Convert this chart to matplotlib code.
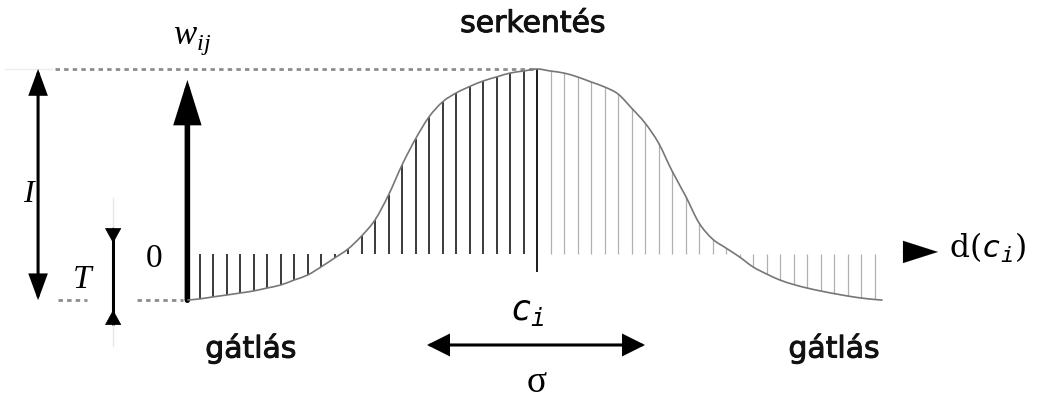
import matplotlib
matplotlib.use("Agg")
import matplotlib.pyplot as plt
from matplotlib.patches import ArrowStyle, PathPatch
from matplotlib.path import Path
import matplotlib.patheffects as pe
import numpy as np

plt.rcParams['mathtext.fontset'] = 'custom'
plt.rcParams['mathtext.rm'] = 'DejaVu Serif'
plt.rcParams['mathtext.it'] = 'DejaVu Sans Mono:italic'
plt.rcParams['mathtext.sf'] = 'Liberation Serif:italic'

# ---- data (x in hatch-spacing units around c_i, y in weight units, peak = w_ij = 1) ----
curve_x = [-25.9] + list(range(-25, 26)) + [25.6]
curve_y = [-0.249,
           -0.243, -0.232, -0.222, -0.211, -0.200, -0.184, -0.168, -0.141, -0.114, -0.070,
           -0.022, 0.027, 0.097, 0.184, 0.319, 0.481, 0.622, 0.741, 0.822, 0.870,
           0.905, 0.935, 0.957, 0.978, 0.989,
           1.000,
           0.989, 0.978, 0.957, 0.930, 0.903, 0.865, 0.789, 0.708, 0.600, 0.449,
           0.314, 0.168, 0.081, 0.032, -0.016, -0.070, -0.108, -0.141, -0.165, -0.184,
           -0.200, -0.214, -0.227, -0.238, -0.246,
           -0.249]
hatch_left = list(range(-25, 0))
hatch_right = list(range(1, 26))
w_peak = 1.0
T_level = -0.25
x_start = -25.9
sigma_left, sigma_right = -8.15, 8.0
labels = {"top": "serkentés", "inhib": "gátlás", "axis": r"$\mathrm{d}(c_i)$",
          "center": r"$c_i$", "w": r"$\mathsf{w}_{\mathsf{ij}}$", "I": "I", "T": "T",
          "zero": "0", "sigma": "σ"}

fig = plt.figure(figsize=(10.38, 3.99), dpi=100)
ax = fig.add_axes([0, 0, 1, 1])
ax.set_xlim(-39.78, 37.11)
ax.set_ylim(-0.784, 1.373)
ax.axis('off')

cy = np.interp(hatch_left, curve_x, curve_y)
for x, y in zip(hatch_left, cy):
    ax.plot([x, x], [0, y], color='#2a2a2a', lw=1.3, solid_capstyle='butt', zorder=2)
cy = np.interp(hatch_right, curve_x, curve_y)
for x, y in zip(hatch_right, cy):
    ax.plot([x, x], [0, y], color='#b0b0b0', lw=0.9, solid_capstyle='butt', zorder=2)
# centre line
ax.plot([0, 0], [w_peak, -0.097], color='#1a1a1a', lw=1.4, solid_capstyle='butt', zorder=3)

# smooth curve through the read points (Catmull-Rom rendered as cubic Bezier)
P = np.column_stack([curve_x, curve_y]).astype(float)
ext = np.vstack([P[0], P, P[-1]])
verts = [tuple(P[0])]
codes = [Path.MOVETO]
for i in range(len(P) - 1):
    p0, p1, p2, p3 = ext[i], ext[i + 1], ext[i + 2], ext[i + 3]
    c1 = p1 + (p2 - p0) / 6.0
    c2 = p2 - (p3 - p1) / 6.0
    verts += [tuple(c1), tuple(c2), tuple(p2)]
    codes += [Path.CURVE4] * 3
ax.add_patch(PathPatch(Path(verts, codes), fill=False, edgecolor='#777777', lw=1.2, zorder=4))

# dotted guide lines
dot = (0, (1.6, 1.5))
ax.plot([-35.7, 0], [w_peak, w_peak], color='#8c8c8c', lw=2.0, ls=dot, zorder=1)
ax.plot([-39.4, -35.9], [w_peak, w_peak], color='#ececec', lw=1.0, zorder=1)
ax.plot([-35.5, -33.3], [T_level, T_level], color='#8c8c8c', lw=2.0, ls=dot, zorder=1)
ax.plot([-29.6, -26.2], [T_level, T_level], color='#8c8c8c', lw=2.0, ls=dot, zorder=1)


def arrow(p0, p1, style, lw, hl, hw):
    ax.annotate('', xy=p1, xytext=p0,
                arrowprops=dict(arrowstyle=ArrowStyle(style, head_length=hl, head_width=hw),
                                lw=lw, color='black', shrinkA=0, shrinkB=0,
                                mutation_scale=1, joinstyle='miter'))


# big vertical arrow
arrow((x_start, T_level), (x_start, 0.941), '-|>', 4.0, 24, 7.5)
# I double arrow
arrow((-36.96, T_level), (-36.96, w_peak), '<|-|>', 2.2, 15, 5.5)
# T indicator
ax.plot([-31.4, -31.4], [0.141, -0.384], color='black', lw=2.2, solid_capstyle='butt')
ax.plot([-31.4, -31.4], [0.141, 0.30], color='#e6e6e6', lw=1.0)
ax.plot([-31.4, -31.4], [-0.384, -0.5], color='#e6e6e6', lw=1.0)
arrow((-31.4, 0.141), (-31.4, 0.059), '-|>', 0.5, 10, 5.5)
arrow((-31.4, -0.384), (-31.4, -0.303), '-|>', 0.5, 10, 5.5)
# sigma arrow
arrow((sigma_left, -0.492), (sigma_right, -0.492), '<|-|>', 2.2, 13, 6.5)
# axis triangle
arrow((27.04, 0.011), (29.7, 0.011), '-|>', 0.1, 25, 8)

# texts
bold_fx = [pe.withStroke(linewidth=0.7, foreground='#111111')]
for (x, y, s) in [(-0.3, 1.2, labels["top"]), (-21.2, -0.56, labels["inhib"]),
                  (22.0, -0.56, labels["inhib"])]:
    ax.text(x, y, s, ha='center', va='baseline', fontsize=21.5,
            family='DejaVu Sans', color='#111111', path_effects=bold_fx)
ax.text(30.5, -0.022, labels["axis"], ha='left', va='baseline', fontsize=22.5)
ax.text(-2.0, -0.357, labels["center"], ha='left', va='baseline', fontsize=25)
ax.text(-27.0, 1.135, labels["w"], ha='left', va='baseline', fontsize=25)
ax.text(-37.7, 0.28, labels["I"], ha='center', va='baseline', fontsize=23,
        family='Liberation Serif', style='italic')
ax.text(-33.7, -0.184, labels["T"], ha='center', va='baseline', fontsize=24,
        family='Liberation Serif', style='italic')
ax.text(-28.4, -0.07, labels["zero"], ha='center', va='baseline', fontsize=24,
        family='Liberation Serif')
ax.text(0.0, -0.746, labels["sigma"], ha='center', va='baseline', fontsize=27,
        family='Liberation Serif')

fig.savefig('out.png', dpi=100)
